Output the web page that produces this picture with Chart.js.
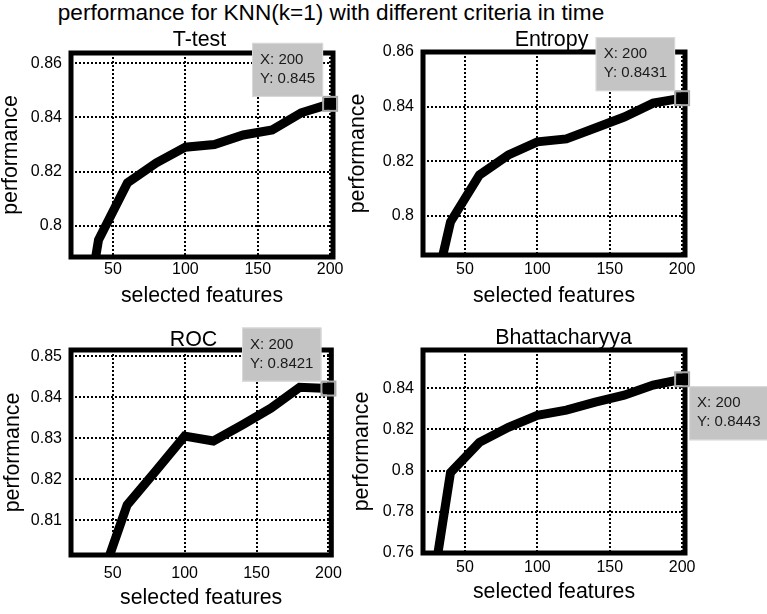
<!DOCTYPE html>
<html>
<head>
<meta charset="utf-8">
<title>performance for KNN(k=1)</title>
<script src="https://cdn.jsdelivr.net/npm/chart.js@4.4.1/dist/chart.umd.min.js"></script>
<style>
  body { margin: 0; background: #fff; }
  #page {
    position: relative;
    width: 767px;
    height: 614px;
    overflow: hidden;
    font-family: "Liberation Sans", Arial, sans-serif;
  }
  #mainTitle {
    position: absolute;
    left: 0;
    top: 0;
    width: 662px;
    text-align: center;
    font-size: 22.6px;
    line-height: 26px;
    color: #000;
    white-space: nowrap;
  }
  .plot { position: absolute; }
</style>
</head>
<body>
<div id="page">
  <div id="mainTitle">performance for KNN(k=1) with different criteria in time</div>
</div>

<script>
// Data
const features = [20, 40, 60, 80, 100, 120, 140, 160, 180, 200];

const ttestPerf = [0.73, 0.7947, 0.8158, 0.8232, 0.829, 0.830, 0.8335, 0.8354, 0.8417, 0.845];
const entropyPerf = [0.752, 0.7978, 0.815, 0.8223, 0.8271, 0.8282, 0.8322, 0.8362, 0.8413, 0.8431];
const rocPerf = [0.78, 0.7935, 0.8137, 0.822, 0.8305, 0.8293, 0.8332, 0.8373, 0.8424, 0.8421];
const bhattPerf = [0.709, 0.799, 0.8137, 0.821, 0.8268, 0.8293, 0.8332, 0.8366, 0.8415, 0.8443];

const xTickLabels = [50, 100, 150, 200];
const xRange = [21, 202];

const ttestTicks = [0.8, 0.82, 0.84, 0.86];
const entropyTicks = [0.8, 0.82, 0.84, 0.86];
const rocTicks = [0.81, 0.82, 0.83, 0.84, 0.85];
const bhattTicks = [0.76, 0.78, 0.8, 0.82, 0.84];

const ttestRange = [0.7884, 0.8638];
const entropyRange = [0.7857, 0.86];
const rocRange = [0.8015, 0.8515];
const bhattRange = [0.76, 0.8585];

const FONT = "'Liberation Sans', Arial, sans-serif";
const LABEL_SIZE = 21.3;

// thick black frame round the axes
const boxPlugin = {
  id: "axesBox",
  afterDatasetsDraw(chart) {
    const ctx = chart.ctx;
    const a = chart.chartArea;
    ctx.save();
    ctx.strokeStyle = "#000";
    ctx.lineWidth = 5;
    ctx.strokeRect(a.left, a.top, a.right - a.left, a.bottom - a.top);
    ctx.restore();
  }
};

// subplot title, centred where the original puts it
const subTitlePlugin = {
  id: "subTitle",
  beforeDatasetsDraw(chart, args, opts) {
    const ctx = chart.ctx;
    ctx.save();
    ctx.font = opts.size + "px " + FONT;
    ctx.fillStyle = "#000";
    ctx.textAlign = "center";
    ctx.textBaseline = "middle";
    ctx.fillText(opts.text, opts.x, opts.y);
    ctx.restore();
  }
};

// matlab style data tip on the last point
const datatipPlugin = {
  id: "datatip",
  afterDraw(chart, args, opts) {
    const ctx = chart.ctx;
    const meta = chart.getDatasetMeta(0);
    const pts = chart.data.datasets[0].data;
    const last = meta.data[meta.data.length - 1];
    const raw = pts[pts.length - 1];
    const px = last.x;
    const py = last.y;

    ctx.save();
    ctx.fillStyle = "#000";
    ctx.fillRect(px - 6, py - 6, 12, 12);
    ctx.strokeStyle = "#a9a9a9";
    ctx.lineWidth = 2;
    ctx.strokeRect(px - 7, py - 7, 14, 14);

    ctx.font = "15px " + FONT;
    const lines = ["X: " + raw.x, "Y: " + raw.y];
    const w = Math.max(...lines.map(t => ctx.measureText(t).width)) + 16;
    const h = 54;
    let bx, by;
    if (opts.side === "above") {
      bx = px - 7 - w;
      by = py - 7 - h;
    } else {
      bx = px + 7;
      by = py + 7;
    }
    ctx.fillStyle = "#c4c4c4";
    ctx.fillRect(bx, by, w, h);
    ctx.strokeStyle = "#dadada";
    ctx.lineWidth = 1;
    ctx.strokeRect(bx + 0.5, by + 0.5, w - 1, h - 1);

    ctx.fillStyle = "#1a1a1a";
    ctx.textBaseline = "middle";
    ctx.textAlign = "left";
    ctx.fillText(lines[0], bx + 8, by + 17);
    ctx.fillText(lines[1], bx + 8, by + 36);
    ctx.restore();
  }
};

const plots = [
  { title: "T-test", values: ttestPerf, ticks: ttestTicks, range: ttestRange,
    area: [71, 53, 333, 257], titleX: 199.5, titleY: 40, yTitleX: 11.5, tickGap: 13, xTitleGap: 39, side: "above", padR: 20 },
  { title: "Entropy", values: entropyPerf, ticks: entropyTicks, range: entropyRange,
    area: [423, 52, 685, 255], titleX: 551.5, titleY: 40, yTitleX: 358, tickGap: 15, xTitleGap: 41, side: "above", padR: 20 },
  { title: "ROC", values: rocPerf, ticks: rocTicks, range: rocRange,
    area: [71, 350, 333, 555], titleX: 193.5, titleY: 340.5, yTitleX: 13, tickGap: 19, xTitleGap: 43, side: "above", padR: 20 },
  { title: "Bhattacharyya", values: bhattPerf, ticks: bhattTicks, range: bhattRange,
    area: [423, 350, 685, 553], titleX: 563.5, titleY: 338, yTitleX: 362, tickGap: 15, xTitleGap: 39, side: "below", padR: 82 }
];

const page = document.getElementById("page");

plots.forEach(function (p) {
  const yAxisW = 75;
  const xAxisH = 58;
  const left = p.area[0] - yAxisW;
  const top = Math.round(p.titleY - 12) - 12;
  const width = p.area[2] - left + p.padR;
  const height = p.area[3] - top + xAxisH + 2;

  const wrap = document.createElement("div");
  wrap.className = "plot";
  wrap.style.left = left + "px";
  wrap.style.top = top + "px";
  const canvas = document.createElement("canvas");
  canvas.width = width;
  canvas.height = height;
  wrap.appendChild(canvas);
  page.appendChild(wrap);

  new Chart(canvas, {
    type: "line",
    data: {
      datasets: [
        {
          data: features.map((x, i) => ({ x: x, y: p.values[i] })),
          borderColor: "#000",
          borderWidth: 9,
          pointRadius: 0,
          tension: 0,
          fill: false
        }
      ]
    },
    options: {
      responsive: false,
      animation: false,
      events: [],
      layout: { padding: { left: 0, top: p.area[1] - top, right: p.padR, bottom: 2 } },
      plugins: {
        legend: { display: false },
        tooltip: { enabled: false },
        title: { display: false },
        subTitle: { text: p.title, x: p.titleX - left, y: p.titleY - top, size: 21.4 },
        datatip: { side: p.side }
      },
      scales: {
        x: {
          type: "linear",
          min: xRange[0],
          max: xRange[1],
          afterBuildTicks: s => { s.ticks = xTickLabels.map(v => ({ value: v })); },
          afterFit: s => { s.height = xAxisH; },
          ticks: {
            color: "#000",
            font: { family: FONT, size: 16, lineHeight: 1 },
            padding: p.tickGap - 8,
            maxRotation: 0,
            callback: v => String(v)
          },
          grid: { color: "#000", lineWidth: 2, drawTicks: false },
          border: { display: false, dash: [2, 2] },
          title: {
            display: true,
            text: "selected features",
            color: "#000",
            font: { family: FONT, size: LABEL_SIZE, lineHeight: 1 },
            padding: { top: 0, bottom: xAxisH - p.xTitleGap - LABEL_SIZE / 2 }
          }
        },
        y: {
          min: p.range[0],
          max: p.range[1],
          afterBuildTicks: s => { s.ticks = p.ticks.map(v => ({ value: v })); },
          afterFit: s => { s.width = yAxisW; },
          ticks: {
            color: "#000",
            font: { family: FONT, size: 16 },
            padding: 9,
            callback: v => String(v)
          },
          grid: { color: "#000", lineWidth: 2, drawTicks: false },
          border: { display: false, dash: [2, 2] },
          title: {
            display: true,
            text: "performance",
            color: "#000",
            font: { family: FONT, size: LABEL_SIZE, lineHeight: 1 },
            padding: { top: p.yTitleX - left - LABEL_SIZE / 2, bottom: 0 }
          }
        }
      }
    },
    plugins: [boxPlugin, subTitlePlugin, datatipPlugin]
  });
});
</script>
</body>
</html>
